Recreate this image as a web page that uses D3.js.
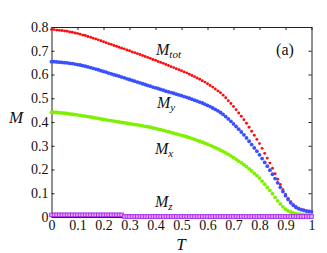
<!DOCTYPE html>
<html><head><meta charset="utf-8">
<script src="https://cdn.jsdelivr.net/npm/d3@7"></script>
<style>body{margin:0;background:#fff}svg{display:block}text{font-family:'Liberation Serif','DejaVu Serif',serif;fill:#111}</style>
</head><body><svg id="c" width="327" height="253"></svg>
<script>
const T = [0,0.01,0.02,0.03,0.04,0.05,0.06,0.07,0.08,0.09,0.1,0.11,0.12,0.13,0.14,0.15,0.16,0.17,0.18,0.19,0.2,0.21,0.22,0.23,0.24,0.25,0.26,0.27,0.28,0.29,0.3,0.31,0.32,0.33,0.34,0.35,0.36,0.37,0.38,0.39,0.4,0.41,0.42,0.43,0.44,0.45,0.46,0.47,0.48,0.49,0.5,0.51,0.52,0.53,0.54,0.55,0.56,0.57,0.58,0.59,0.6,0.61,0.62,0.63,0.64,0.65,0.66,0.67,0.68,0.69,0.7,0.71,0.72,0.73,0.74,0.75,0.76,0.77,0.78,0.79,0.8,0.81,0.82,0.83,0.84,0.85,0.86,0.87,0.88,0.89,0.9,0.91,0.92,0.93,0.94,0.95,0.96,0.97,0.98,0.99,1];
const Mtot = [.789,.789,.787,.786,.785,.783,.782,.779,.778,.775,.773,.770,.766,.764,.760,.757,.753,.750,.746,.742,.738,.734,.730,.727,.722,.719,.715,.711,.708,.703,.700,.695,.692,.688,.684,.680,.676,.672,.668,.663,.660,.655,.651,.647,.642,.638,.633,.629,.624,.620,.616,.611,.607,.601,.596,.591,.585,.580,.574,.568,.561,.554,.547,.539,.531,.523,.513,.502,.490,.478,.465,.452,.438,.424,.410,.395,.378,.361,.344,.327,.309,.289,.268,.248,.227,.205,.182,.159,.137,.115,.096,.078,.064,.052,.043,.037,.033,.030,.027,.025,.023];
const My = [.654,.654,.653,.652,.651,.650,.649,.647,.646,.644,.642,.640,.637,.635,.632,.629,.626,.623,.620,.616,.613,.610,.606,.603,.599,.596,.593,.589,.586,.582,.579,.575,.572,.568,.565,.561,.558,.554,.551,.547,.544,.541,.537,.534,.530,.527,.524,.521,.517,.514,.511,.507,.504,.500,.496,.492,.488,.484,.480,.475,.470,.465,.459,.453,.447,.440,.432,.423,.413,.403,.392,.381,.370,.358,.346,.333,.319,.305,.291,.277,.262,.246,.230,.214,.197,.180,.162,.144,.125,.107,.090,.074,.060,.049,.041,.035,.031,.028,.025,.023,.022];
const Mx = [.441,.441,.440,.439,.438,.437,.436,.434,.433,.431,.430,.428,.426,.425,.423,.421,.419,.417,.415,.413,.411,.409,.407,.406,.404,.402,.400,.398,.397,.395,.393,.391,.389,.388,.386,.384,.382,.380,.378,.375,.373,.370,.368,.365,.362,.359,.356,.353,.350,.347,.344,.341,.338,.334,.331,.327,.323,.319,.315,.311,.307,.302,.297,.292,.287,.282,.276,.270,.264,.257,.250,.243,.235,.228,.220,.212,.203,.194,.184,.174,.164,.151,.138,.125,.112,.098,.083,.068,.055,.043,.033,.026,.021,.017,.014,.012,.011,.010,.009,.009,.008];
const Mz = [.009,.009,.009,.009,.009,.009,.009,.009,.009,.009,.009,.009,.009,.009,.009,.009,.009,.009,.009,.009,.009,.009,.009,.009,.009,.009,.009,.009,.002,.002,.002,.002,.002,.002,.002,.002,.002,.002,.002,.002,.002,.002,.002,.002,.002,.002,.002,.002,.002,.002,.002,.002,.002,.002,.002,.002,.002,.002,.002,.002,.002,.002,.002,.002,.002,.002,.002,.002,.002,.002,.002,.002,.002,.002,.002,.002,.002,.002,.002,.002,.002,.002,.002,.002,.002,.002,.002,.002,.002,.002,.002,.002,.002,.002,.002,.002,.002,.002,.002,.002,.002];
const xTicks = [0,0.1,0.2,0.3,0.4,0.5,0.6,0.7,0.8,0.9,1];
const yTicks = [0,0.1,0.2,0.3,0.4,0.5,0.6,0.7,0.8];

const FONT = "Liberation Serif, DejaVu Serif, serif";
const svg = d3.select("#c");
const L=51.5, R=311.5, Tp=27, B=217;
const x = d3.scaleLinear().domain([0,1]).range([L,R]);
const y = d3.scaleLinear().domain([0,0.8]).range([B,Tp]);

const fmt = d => d===0 ? "0" : (d===1 ? "1" : d3.format(".1f")(d));
const gx = svg.append("g").attr("transform",`translate(0,${B})`)
  .call(d3.axisBottom(x).tickValues(xTicks).tickFormat(fmt).tickSizeInner(-3).tickSizeOuter(0).tickPadding(3));
const gy = svg.append("g").attr("transform",`translate(${L},0)`)
  .call(d3.axisLeft(y).tickValues(yTicks).tickFormat(fmt).tickSizeInner(-3).tickSizeOuter(0).tickPadding(3));
const gt = svg.append("g").attr("transform",`translate(0,${Tp})`)
  .call(d3.axisTop(x).tickValues(xTicks).tickFormat("").tickSizeInner(-3).tickSizeOuter(0));
const gr = svg.append("g").attr("transform",`translate(${R},0)`)
  .call(d3.axisRight(y).tickValues(yTicks).tickFormat("").tickSizeInner(-3).tickSizeOuter(0));
[gx,gy,gt,gr].forEach(g=>{
  g.attr("font-family",FONT).attr("font-size",14);
  g.selectAll("path").attr("stroke","#222").attr("stroke-width",1);
  g.selectAll("line").attr("stroke","#222");
  g.selectAll("text").attr("fill","#111").style("font-family",FONT);});

const pts = T.map((t,i)=>({t,tot:Mtot[i],my:My[i],mx:Mx[i],mz:Mz[i]}));
function dots(key,color,r){
  svg.append("g").selectAll("circle").data(pts).join("circle")
    .attr("cx",d=>x(d.t)).attr("cy",d=>y(d[key])).attr("r",r).attr("fill",color);
}
dots("tot","#ff0a0a",1.45);
dots("my","#3a50ff",1.9);
dots("mx","#7ef000",1.9);
svg.append("g").selectAll("rect").data(pts).join("rect")
  .attr("x",d=>x(d.t)-1.8).attr("y",d=>y(d.mz)-1.8).attr("width",3.6).attr("height",3.6)
  .attr("fill","#e3a8ff").attr("stroke","#a828e8").attr("stroke-width",0.9);

function mlabel(xp,yp,sub){
  const t=svg.append("text").attr("x",xp).attr("y",yp).style("font-family",FONT).attr("font-style","italic").attr("font-size",16);
  t.append("tspan").text("M");
  t.append("tspan").attr("dy",3).attr("font-size",11).text(sub);
}
mlabel(156,55,"tot");
mlabel(157,108,"y");
mlabel(155,154,"x");
mlabel(155,207,"z");
svg.append("text").attr("x",285).attr("y",55).attr("text-anchor","middle").style("font-family",FONT).attr("font-size",16).text("(a)");
svg.append("text").attr("x",16).attr("y",123).attr("text-anchor","middle").style("font-family",FONT).attr("font-style","italic").attr("font-size",17).text("M");
svg.append("text").attr("x",181).attr("y",250).attr("text-anchor","middle").style("font-family",FONT).attr("font-style","italic").attr("font-size",17).text("T");
</script></body></html>
